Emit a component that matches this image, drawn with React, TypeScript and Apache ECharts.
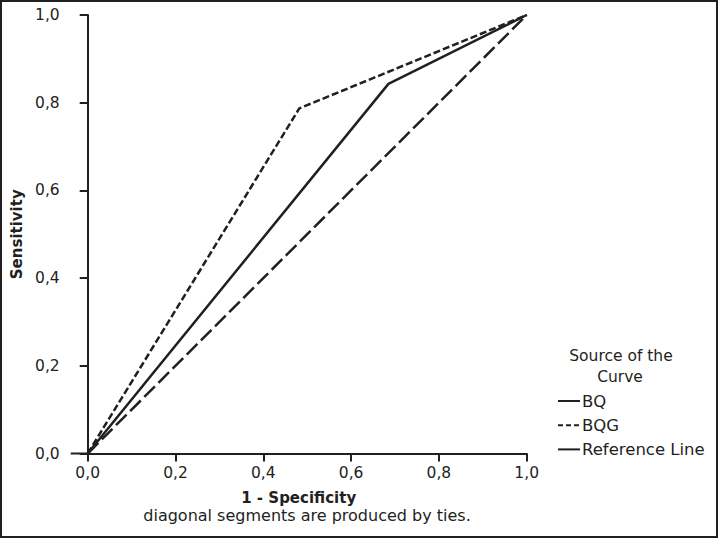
import React, { useEffect, useRef } from "react";
import * as echarts from "echarts";

const xTicks = [0, 0.2, 0.4, 0.6, 0.8, 1.0];
const bqX = [0, 0.685, 1];
const bqY = [0, 0.843, 1];
const bqgX = [0, 0.482, 1];
const bqgY = [0, 0.787, 1];
const refX = [0, 1];
const refY = [0, 1];
const seriesNames = ["BQ", "BQG", "Reference Line"];

const FONT = "'DejaVu Sans', 'Liberation Sans', Arial, sans-serif";
const INK = "#231f20";
const FS = 15.5;

const pairs = (xs: number[], ys: number[]) => xs.map((x, i) => [x, ys[i]]);
const fmt = (v: number) => v.toFixed(1).replace(".", ",");

export default function App() {
  const ref = useRef<HTMLDivElement>(null);
  useEffect(() => {
    if (!ref.current) return;
    const chart = echarts.init(ref.current, undefined, { renderer: "svg" });
    const axisCommon = {
      type: "value" as const,
      min: xTicks[0],
      max: xTicks[xTicks.length - 1],
      interval: 0.2,
      splitLine: { show: false },
      axisLine: { show: true, lineStyle: { color: INK, width: 2 } },
      axisTick: { show: true, length: 8, lineStyle: { color: INK, width: 2 } },
      axisLabel: { color: INK, fontSize: FS, fontFamily: FONT, margin: 11, formatter: (v: number) => fmt(v) },
      nameLocation: "middle" as const,
    };
    const nameStyle = { color: INK, fontSize: 15, fontWeight: "bold" as const, fontFamily: FONT };
    const hiddenSymbol = { color: "rgba(0,0,0,0)", borderWidth: 0 };
    chart.setOption({
      animation: false,
      backgroundColor: "#ffffff",
      grid: { left: 87.7, right: 192.3, top: 15, bottom: 86.5 },
      xAxis: {
        ...axisCommon,
        name: "1 - Specificity",
        nameGap: 37,
        nameTextStyle: { ...nameStyle, padding: [0, 17, 0, 0] },
      },
      yAxis: { ...axisCommon, name: "Sensitivity", nameGap: 46, offset: 17, nameTextStyle: nameStyle },
      legend: {
        orient: "vertical",
        left: 557,
        top: 392.5,
        padding: 0,
        itemWidth: 22,
        itemHeight: 14,
        itemGap: 7.2,
        textStyle: { color: INK, fontSize: 16.5, fontFamily: FONT, padding: [0, 0, 0, -3] },
        data: [
          { name: seriesNames[0], lineStyle: { type: "solid", width: 2 }, itemStyle: hiddenSymbol },
          { name: seriesNames[1], lineStyle: { type: [5, 3], width: 2 }, itemStyle: hiddenSymbol },
          { name: seriesNames[2], lineStyle: { type: "solid", width: 2 }, itemStyle: hiddenSymbol },
        ],
      },
      series: [
        {
          name: seriesNames[0],
          type: "line",
          data: pairs(bqX, bqY),
          symbol: "none",
          lineStyle: { color: INK, width: 2.5, type: "solid" },
          itemStyle: { color: INK },
        },
        {
          name: seriesNames[1],
          type: "line",
          data: pairs(bqgX, bqgY),
          symbol: "none",
          lineStyle: { color: INK, width: 2.5, type: [7, 3] },
          itemStyle: { color: INK },
        },
        {
          name: seriesNames[2],
          type: "line",
          data: pairs(refX, refY),
          symbol: "none",
          lineStyle: { color: INK, width: 2.5, type: [15, 5] },
          itemStyle: { color: INK },
        },
      ],
      graphic: [
        {
          type: "rect",
          shape: { x: 1, y: 1, width: 716, height: 536 },
          style: { fill: "none", stroke: INK, lineWidth: 2 },
          silent: true,
        },
        {
          type: "line",
          shape: { x1: 70.7, y1: 453.5, x2: 88.5, y2: 453.5 },
          style: { stroke: INK, lineWidth: 2 },
          silent: true,
        },
        {
          type: "text",
          x: 307,
          y: 515,
          style: {
            text: "diagonal segments are produced by ties.",
            fill: INK,
            font: `16px ${FONT}`,
            textAlign: "center",
            textVerticalAlign: "middle",
          },
        },
        {
          type: "text",
          x: 621,
          y: 355.7,
          style: { text: "Source of the", fill: INK, font: `${FS}px ${FONT}`, textAlign: "center", textVerticalAlign: "middle" },
        },
        {
          type: "text",
          x: 620,
          y: 377,
          style: { text: "Curve", fill: INK, font: `${FS}px ${FONT}`, textAlign: "center", textVerticalAlign: "middle" },
        },
      ],
    });
    return () => chart.dispose();
  }, []);
  return (
    <div
      ref={ref}
      style={{ position: "absolute", left: 0, top: 0, width: 719, height: 540 }}
    />
  );
}
